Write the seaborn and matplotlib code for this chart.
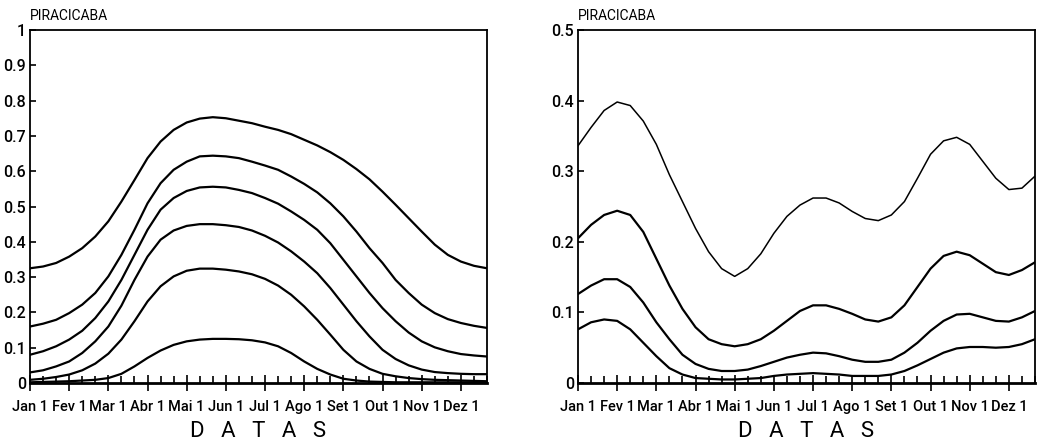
import numpy as np
import pandas as pd
import matplotlib
matplotlib.use("Agg")
import matplotlib.pyplot as plt
import seaborn as sns

sns.set_theme(style="white")
plt.rcParams['font.family'] = ['Roboto', 'DejaVu Sans']

# x positions: 10-day periods (decêndios), 36 per year
decades = list(range(36))
month_labels = ["Jan 1", "Fev 1", "Mar 1", "Abr 1", "Mai 1", "Jun 1",
                "Jul 1", "Ago 1", "Set 1", "Out 1", "Nov 1", "Dez 1"]

left_c1 = [0.325, 0.33, 0.34, 0.358, 0.382, 0.415, 0.458, 0.514, 0.575, 0.637,
           0.684, 0.717, 0.738, 0.749, 0.753, 0.75, 0.743, 0.736, 0.726, 0.717,
           0.705, 0.689, 0.673, 0.654, 0.632, 0.606, 0.577, 0.542, 0.505, 0.467,
           0.429, 0.392, 0.363, 0.344, 0.332, 0.325]
left_c2 = [0.16, 0.168, 0.179, 0.198, 0.222, 0.255, 0.302, 0.363, 0.434, 0.509,
           0.566, 0.604, 0.627, 0.642, 0.644, 0.642, 0.637, 0.627, 0.616, 0.604,
           0.585, 0.564, 0.54, 0.509, 0.472, 0.429, 0.382, 0.34, 0.292, 0.255,
           0.222, 0.198, 0.181, 0.17, 0.162, 0.156]
left_c3 = [0.08, 0.09, 0.104, 0.123, 0.148, 0.184, 0.231, 0.292, 0.363, 0.434,
           0.491, 0.524, 0.544, 0.554, 0.556, 0.554, 0.547, 0.538, 0.524, 0.508,
           0.486, 0.462, 0.434, 0.396, 0.349, 0.302, 0.255, 0.212, 0.175, 0.143,
           0.118, 0.101, 0.09, 0.082, 0.078, 0.075]
left_c4 = [0.03, 0.036, 0.047, 0.061, 0.085, 0.118, 0.16, 0.219, 0.292, 0.358,
           0.406, 0.432, 0.445, 0.45, 0.45, 0.447, 0.442, 0.432, 0.417, 0.398,
           0.373, 0.344, 0.311, 0.269, 0.222, 0.175, 0.132, 0.094, 0.068, 0.05,
           0.038, 0.031, 0.028, 0.026, 0.025, 0.025]
left_c5 = [0.009, 0.012, 0.017, 0.024, 0.036, 0.055, 0.083, 0.123, 0.175, 0.231,
           0.274, 0.302, 0.318, 0.324, 0.324, 0.321, 0.316, 0.308, 0.295, 0.276,
           0.25, 0.217, 0.179, 0.137, 0.094, 0.061, 0.04, 0.026, 0.019, 0.014,
           0.011, 0.009, 0.008, 0.007, 0.006, 0.005]
left_c6 = [0.002, 0.003, 0.004, 0.005, 0.007, 0.009, 0.014, 0.026, 0.047, 0.071,
           0.092, 0.108, 0.118, 0.123, 0.125, 0.125, 0.124, 0.121, 0.115, 0.104,
           0.085, 0.061, 0.04, 0.024, 0.012, 0.007, 0.004, 0.003, 0.002, 0.002,
           0.002, 0.002, 0.002, 0.002, 0.002, 0.002]

right_a = [0.336, 0.362, 0.386, 0.398, 0.393, 0.371, 0.338, 0.295, 0.257, 0.219,
           0.186, 0.162, 0.151, 0.162, 0.183, 0.212, 0.236, 0.252, 0.262, 0.262,
           0.255, 0.243, 0.233, 0.23, 0.238, 0.257, 0.29, 0.324, 0.343, 0.348,
           0.338, 0.314, 0.29, 0.274, 0.276, 0.293]
right_b = [0.205, 0.224, 0.238, 0.244, 0.238, 0.214, 0.176, 0.138, 0.105, 0.079,
           0.062, 0.055, 0.052, 0.055, 0.062, 0.074, 0.088, 0.102, 0.11, 0.11,
           0.105, 0.098, 0.09, 0.087, 0.093, 0.11, 0.136, 0.162, 0.18, 0.186,
           0.181, 0.169, 0.157, 0.153, 0.16, 0.171]
right_c = [0.126, 0.138, 0.147, 0.147, 0.136, 0.114, 0.086, 0.062, 0.04, 0.027,
           0.02, 0.017, 0.017, 0.019, 0.024, 0.03, 0.036, 0.04, 0.043, 0.042,
           0.038, 0.033, 0.03, 0.03, 0.033, 0.043, 0.057, 0.074, 0.088, 0.097,
           0.098, 0.093, 0.088, 0.087, 0.093, 0.102]
right_d = [0.076, 0.086, 0.09, 0.088, 0.076, 0.057, 0.038, 0.021, 0.012, 0.007,
           0.006, 0.005, 0.005, 0.006, 0.007, 0.01, 0.012, 0.013, 0.014, 0.013,
           0.012, 0.01, 0.01, 0.01, 0.012, 0.017, 0.025, 0.034, 0.043, 0.049,
           0.051, 0.051, 0.05, 0.051, 0.055, 0.062]

left_series = [left_c1, left_c2, left_c3, left_c4, left_c5, left_c6]
right_series = [right_a, right_b, right_c, right_d]
left_yticks = [0, 0.1, 0.2, 0.3, 0.4, 0.5, 0.6, 0.7, 0.8, 0.9, 1]
left_ylabels = ["0", "0.1", "0.2", "0.3", "0.4", "0.5", "0.6", "0.7", "0.8", "0.9", "1"]
right_yticks = [0, 0.1, 0.2, 0.3, 0.4, 0.5]
right_ylabels = ["0", "0.1", "0.2", "0.3", "0.4", "0.5"]
title_text = "PIRACICABA"
xlabel_text = "D   A   T   A   S"

FAM = ['Roboto', 'DejaVu Sans']
tick_size, title_size, xl_size = 10.5, 10, 16


def long_df(series_list):
    frames = []
    for i, s in enumerate(series_list):
        frames.append(pd.DataFrame({"decada": decades, "valor": s, "curva": f"c{i}"}))
    return pd.concat(frames, ignore_index=True)


fig = plt.figure(figsize=(10.37, 4.46), dpi=100)
ax1 = fig.add_axes([30 / 1037, 1 - 383 / 446, 457 / 1037, 353 / 446])
ax2 = fig.add_axes([578 / 1037, 1 - 383 / 446, 457 / 1037, 353 / 446])

sns.lineplot(data=long_df(left_series), x="decada", y="valor", units="curva",
             estimator=None, color="black", lw=1.6, ax=ax1, legend=False)
right_df = long_df(right_series)
sns.lineplot(data=right_df[right_df.curva == "c0"], x="decada", y="valor",
             color="black", lw=1.1, ax=ax2, legend=False)
sns.lineplot(data=right_df[right_df.curva != "c0"], x="decada", y="valor", units="curva",
             estimator=None, color="black", lw=1.6, ax=ax2, legend=False)
for ax in (ax1, ax2):
    for ln in ax.get_lines():
        ln.set_solid_joinstyle("round")
        ln.set_solid_capstyle("round")

for ax, yt, yl, ymax in [(ax1, left_yticks, left_ylabels, 1.0),
                         (ax2, right_yticks, right_ylabels, 0.5)]:
    ax.set_xlim(0, 35)
    ax.set_ylim(0, ymax)
    ax.set_xticks(range(0, 36, 3))
    ax.set_xticks([d for d in range(36) if d % 3 != 0], minor=True)
    ax.set_xticklabels(month_labels, family=FAM, fontsize=tick_size, fontweight="medium")
    ax.set_yticks(yt)
    ax.set_yticklabels(yl, family=FAM, fontsize=tick_size + 1, fontweight="medium")
    ax.tick_params(axis="x", which="major", direction="inout", length=12, width=1.2,
                   pad=6, color="black", labelcolor="black", bottom=True)
    ax.tick_params(axis="x", which="minor", direction="in", length=5, width=1.2,
                   bottom=True, color="black")
    ax.tick_params(axis="y", which="major", direction="in", length=4, width=1.2,
                   pad=3, left=True, color="black", labelcolor="black")
    for sp in ax.spines.values():
        sp.set_visible(True)
        sp.set_color("black")
        sp.set_linewidth(1.3)
    ax.spines["bottom"].set_linewidth(2.0)
    ax.set_xlabel(xlabel_text, family=FAM, fontsize=xl_size, labelpad=5, color="black")
    ax.set_ylabel("")
    ax.text(0.0, 1.02, title_text, transform=ax.transAxes, family=FAM,
            fontsize=title_size, ha="left", va="bottom", color="black")
    ax.grid(False)

fig.savefig("out.png", dpi=100, facecolor="white")
